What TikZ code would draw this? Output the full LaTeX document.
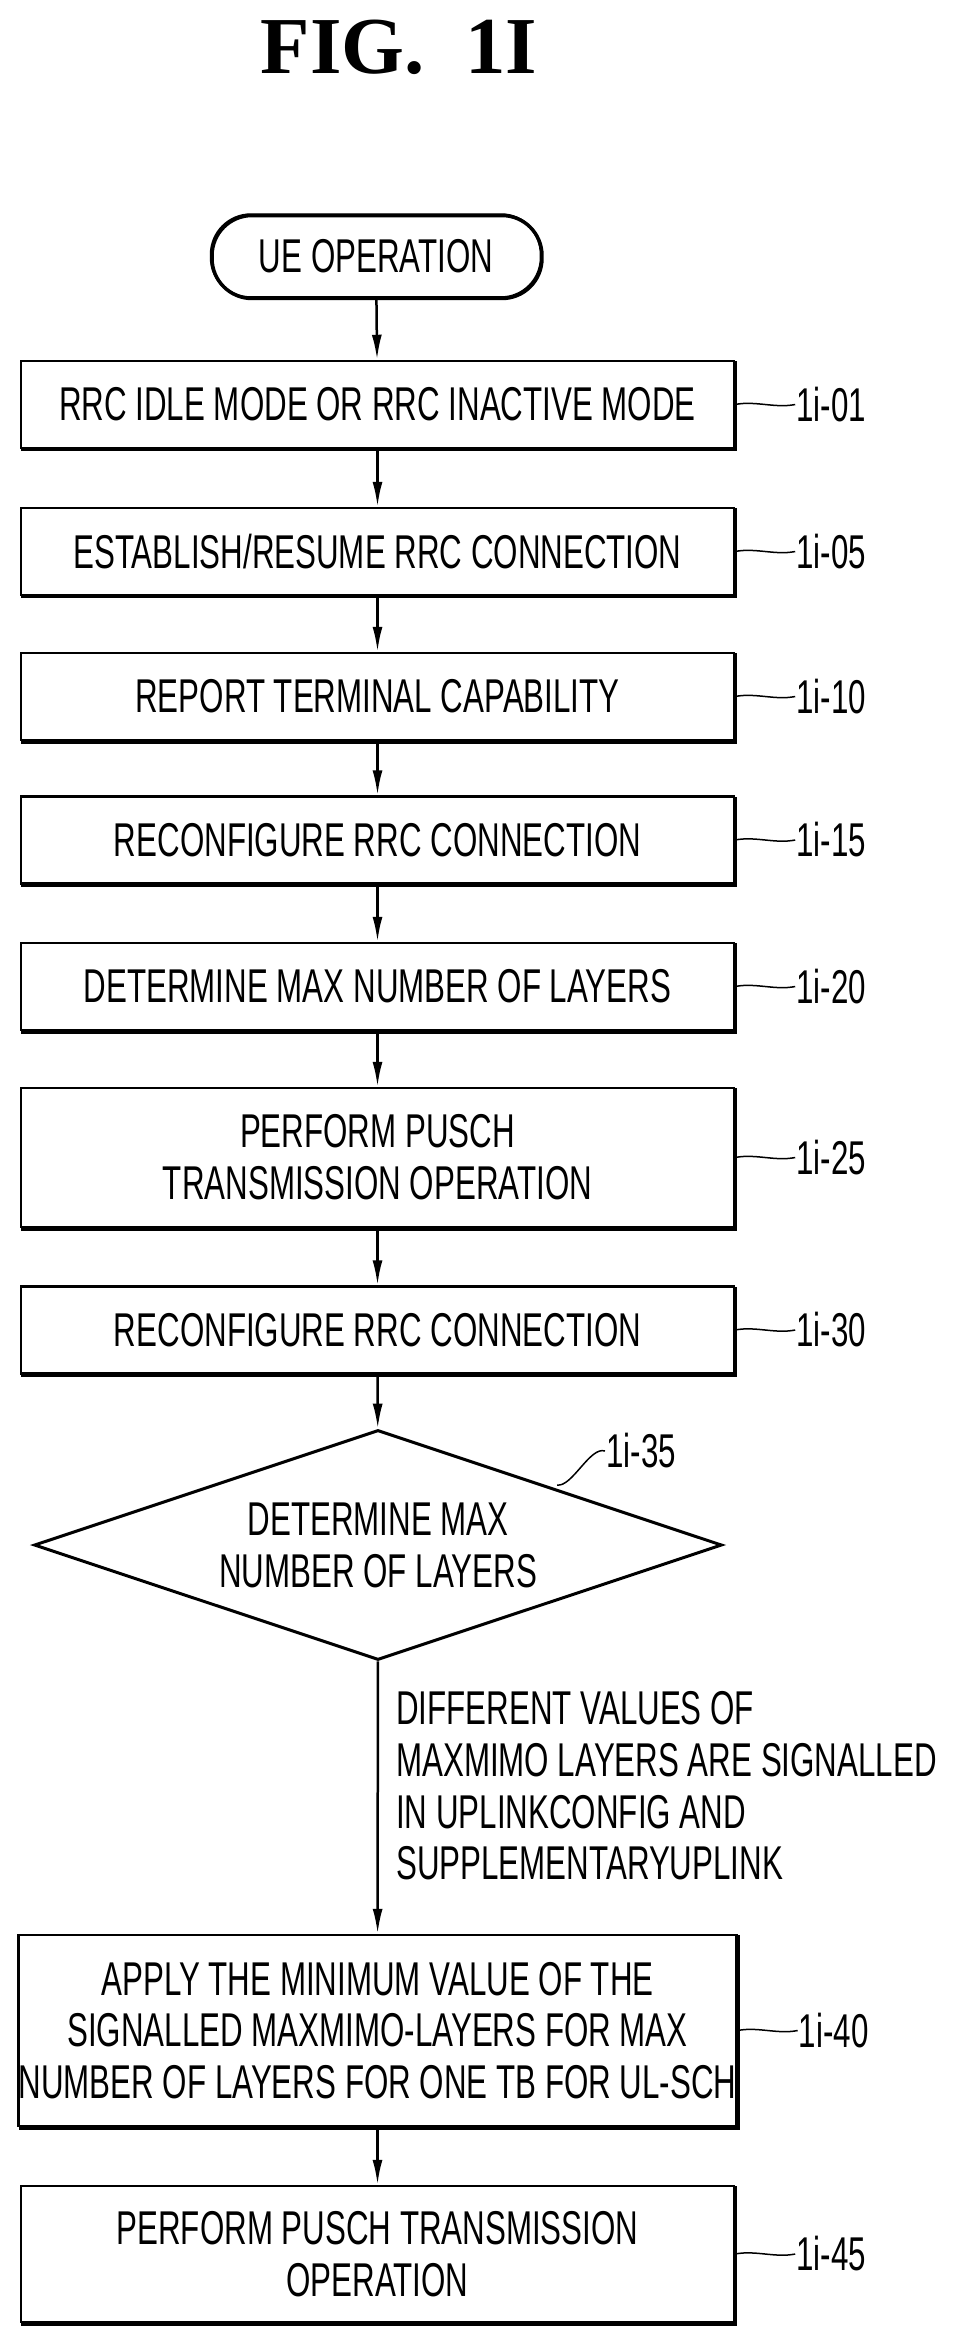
\documentclass[tikz,border=0pt]{standalone}
\usepackage{fontspec}
\setmainfont{Liberation Sans}[FakeStretch=0.66]
\newfontfamily\figfont{Liberation Serif}
\usetikzlibrary{shapes,arrows.meta}

\begin{document}
\fontsize{27}{29.5}\selectfont
\begin{tikzpicture}[x=0.02cm,y=-0.02cm,>={Latex[length=0.5cm,width=0.2cm]},
  line width=0.05cm,
  proc/.style={draw,fill=white,rectangle,minimum width=14.26cm,minimum height=1.74cm,align=center,inner sep=0,
    preaction={draw,line width=0.07cm,transform canvas={shift={(0.035cm,-0.035cm)}}}},
  term/.style={draw,rectangle,rounded corners=0.8cm,minimum width=6.6cm,minimum height=1.66cm,
    preaction={draw,line width=0.07cm,transform canvas={shift={(0.02cm,-0.02cm)}}}},
  test/.style={draw,diamond,aspect=3,minimum width=13.76cm,minimum height=4.6cm,inner sep=0,align=center},
  tag/.style={anchor=west,inner sep=0}]
\useasboundingbox (0,0) rectangle (954,2343);
\node[font=\figfont\bfseries\fontsize{46}{46}\selectfont] (fig) at (399,47) {FIG.\ \ 1I};

\node[term](q0) at (376,256) {UE OPERATION};
\node[proc](q1) at (377.5,404.5) {RRC IDLE MODE OR RRC INACTIVE MODE};
\node[proc](q2) at (377.5,551.5) {ESTABLISH/RESUME RRC CONNECTION};
\node[proc](q3) at (377.5,696.5) {REPORT TERMINAL CAPABILITY};
\node[proc](q4) at (377.5,840) {RECONFIGURE RRC CONNECTION};
\node[proc](q5) at (377.5,986.5) {DETERMINE MAX NUMBER OF LAYERS};
\node[proc,minimum height=2.78cm](q6) at (377.5,1157.5) {PERFORM PUSCH\\TRANSMISSION OPERATION};
\node[proc](q7) at (377.5,1330) {RECONFIGURE RRC CONNECTION};
\node[test,line width=0.06cm](q8) at (378,1545) {DETERMINE MAX\\NUMBER OF LAYERS};
\node[proc,minimum height=3.82cm](q9) at (377.5,2030.5) {APPLY THE MINIMUM VALUE OF THE\\SIGNALLED MAXMIMO-LAYERS FOR MAX\\NUMBER OF LAYERS FOR ONE TB FOR UL-SCH};
\node[proc,minimum height=2.72cm](q10) at (377.5,2254) {PERFORM PUSCH TRANSMISSION\\OPERATION};

\draw[->](q0)--(q1); \draw[->](q1)--(q2);
\draw[->](q2)--(q3); \draw[->](q3)--(q4);
\draw[->](q4)--(q5); \draw[->](q5)--(q6);
\draw[->](q6)--(q7); \draw[->](q7)--(q8);
\draw[->](q8)--(q9); \draw[->](q9)--(q10);

\node[anchor=north west,align=left,inner sep=0] (cond) at (395,1690)
  {DIFFERENT VALUES OF\\MAXMIMO LAYERS ARE SIGNALLED\\IN UPLINKCONFIG AND\\SUPPLEMENTARYUPLINK};

% reference numerals
\foreach \q/\t in {q1/01,q2/05,q3/10,q4/15,q5/20,q6/25,q7/30,q9/40,q10/45}{
  \node[tag](l\t) at ([xshift=1.2cm]\q.east) {1i-\t};
  \draw[line width=0.03cm](\q.east) .. controls +(0.4cm,0.08cm) and +(-0.4cm,-0.08cm) .. (l\t.west);
}
\node[tag](l35) at (605,1451) {1i-35};
\coordinate (c35) at (557,1485);
\draw[line width=0.03cm](c35) .. controls +(0.3cm,-0.05cm) and +(-0.3cm,0.1cm) .. (l35.west);
\end{tikzpicture}
\end{document}
